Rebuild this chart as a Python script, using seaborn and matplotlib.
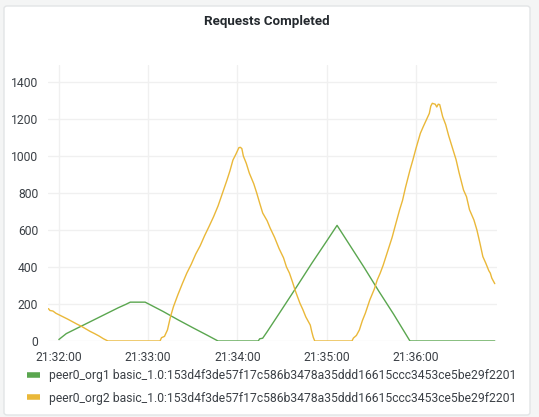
import pandas as pd
import matplotlib
matplotlib.use('Agg')
import matplotlib.pyplot as plt
import matplotlib.dates as mdates
from matplotlib.lines import Line2D
from matplotlib.patches import FancyBboxPatch
import seaborn as sns

# seconds after 21:32:00 and request counts
org1_sec = [0, 5, 10, 15, 20, 25, 30, 35, 40, 45, 48, 58, 70, 80, 90, 100, 107,
            134, 135, 137, 140, 150, 160, 170, 180, 187, 195, 205, 215, 225, 236, 293]
org1_val = [8, 40, 60, 80, 100, 120, 140, 160, 180, 198, 210, 210, 160, 115, 72, 30, 0,
            0, 12, 15, 50, 172, 295, 420, 540, 625, 525, 400, 270, 145, 0, 0]

org2_sec = [-7, -6, -4, -2, 0, 3, 6, 9, 12, 15, 18, 21, 24, 27, 30, 33,
            68, 69, 71, 73, 75, 77, 80, 83, 86, 89, 92, 95, 98, 101, 104, 107, 110, 113,
            115, 117, 119, 121, 122, 123, 124, 126, 128, 131, 133, 135, 137, 140, 142,
            145, 148, 151, 153, 155, 157, 159, 162, 164, 166, 169, 170, 171, 172,
            197, 198, 200, 202, 204, 206, 209, 212, 214, 216, 218, 220, 222, 224, 226,
            229, 231, 233, 236, 238, 240, 243, 245, 247, 249, 250, 251, 253, 254, 255,
            256, 258, 260, 262, 265, 267, 269, 272, 274, 276, 279, 281, 283, 285, 287,
            289, 290, 291, 293]
org2_val = [175, 165, 162, 150, 142, 130, 118, 105, 92, 80, 66, 52, 40, 27, 12, 0,
            0, 18, 25, 60, 130, 185, 250, 310, 367, 415, 470, 515, 570, 620, 672, 730, 800, 870,
            920, 978, 1010, 1045, 1047, 1040, 1000, 960, 908, 850, 800, 745, 692, 650, 611,
            560, 500, 450, 400, 367, 320, 270, 205, 170, 130, 86, 50, 20, 0,
            0, 16, 30, 60, 110, 150, 222, 280, 330, 367, 410, 460, 510, 560, 620,
            708, 760, 830, 924, 980, 1040, 1123, 1160, 1195, 1230, 1270, 1285, 1280, 1265, 1280,
            1278, 1212, 1170, 1110, 1032, 980, 910, 816, 780, 710, 654, 600, 530, 456, 420,
            380, 367, 340, 310]

series_names = ['peer0_org1 basic_1.0:153d4f3de57f17c586b3478a35ddd16615ccc3453ce5be29f2201',
                'peer0_org2 basic_1.0:153d4f3de57f17c586b3478a35ddd16615ccc3453ce5be29f2201']
series_colors = ['#5AA64F', '#EAB839']

base = pd.Timestamp('2021-01-01 21:32:00')
df = pd.concat([
    pd.DataFrame({'time': base + pd.to_timedelta(org1_sec, unit='s'), 'value': org1_val, 'series': series_names[0]}),
    pd.DataFrame({'time': base + pd.to_timedelta(org2_sec, unit='s'), 'value': org2_val, 'series': series_names[1]}),
])

sns.set_theme(style='white')
plt.rcParams['font.family'] = ['Roboto', 'DejaVu Sans']

fig = plt.figure(figsize=(5.39, 4.17), dpi=100)
fig.patch.set_facecolor('#f4f5f5')
panel = FancyBboxPatch((4 / 539, 2 / 417), 526 / 539, 409 / 417,
                       boxstyle='round,pad=0,rounding_size=0.006',
                       transform=fig.transFigure, facecolor='white',
                       edgecolor='#e2e4e6', linewidth=1, zorder=-5)
fig.patches.append(panel)

ax = fig.add_axes([48 / 539, 1 - 341 / 417, 449 / 539, 276 / 417])
ax.set_facecolor('none')
sns.lineplot(data=df, x='time', y='value', hue='series', palette=series_colors,
             linewidth=1, legend=False, ax=ax)

ax.set_xlim(base + pd.Timedelta(seconds=-7.3), base + pd.Timedelta(seconds=294.5))
ax.set_ylim(0, 1492)
ax.set_yticks(range(0, 1401, 200))
ax.xaxis.set_major_locator(mdates.MinuteLocator())
ax.xaxis.set_major_formatter(mdates.DateFormatter('%H:%M:%S'))
ax.grid(True, color='#f0f0f0', linewidth=1)
for s in ax.spines.values():
    s.set_visible(False)
ax.tick_params(axis='both', length=0, labelsize=8.7, colors='#3b4046')
ax.tick_params(axis='y', pad=7)
ax.tick_params(axis='x', pad=7)
ax.set_xlabel('')
ax.set_ylabel('')

fig.text(267 / 539, 1 - 22 / 417, 'Requests Completed', ha='center', va='center',
         fontsize=9.6, fontweight='bold', color='#24292e')

handles = [Line2D([], [], color=c, linewidth=4, solid_capstyle='butt') for c in series_colors]
fig.legend(handles, series_names, loc='upper left', bbox_to_anchor=(27 / 539, 1 - 369 / 417),
           frameon=False, fontsize=8.7, handlelength=1.1, handletextpad=0.75,
           labelspacing=0.8, borderpad=0, borderaxespad=0, labelcolor='#3b4046')

fig.savefig('out.png', dpi=100, facecolor=fig.get_facecolor())
